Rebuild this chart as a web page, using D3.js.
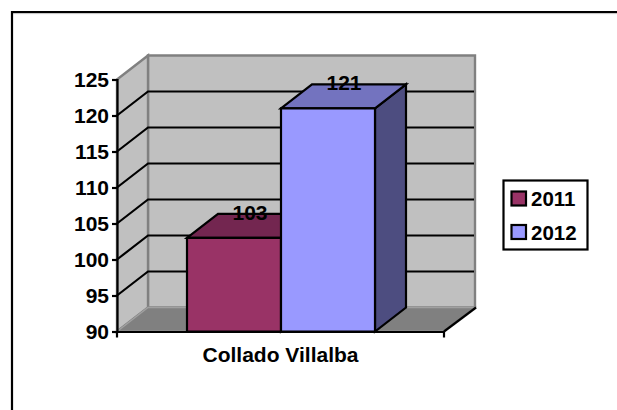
<!DOCTYPE html>
<html>
<head>
<meta charset="utf-8">
<script src="https://cdn.jsdelivr.net/npm/d3@7"></script>
<style>
html, body { margin: 0; padding: 0; background: #fff; }
svg { display: block; }
text { font-family: "Liberation Sans", Arial, sans-serif; font-weight: bold; fill: #000; }
</style>
</head>
<body>
<svg id="chart" width="617" height="410"></svg>
<script>
var categories = ["Collado Villalba"];
var seriesNames = ["2011", "2012"];
var seriesValues = [103, 121];
var seriesLabels = ["103", "121"];
var yTicks = [90, 95, 100, 105, 110, 115, 120, 125];

var seriesColors = ["#993366", "#9999ff"];
var topColors = ["#732650", "#7373bf"];
var sideColors = ["#4d1a33", "#4d4d80"];

var svg = d3.select("#chart");
var depthX = 31, depthY = -24;
var lineW = 2.2;

var y = d3.scaleLinear().domain([90, 125]).range([331.5, 79.5]);
var x0 = d3.scaleBand().domain(categories).range([117, 444]);
var x1 = d3.scaleBand().domain(seriesNames).range([187, 375]);

function poly(points, fill, stroke, width) {
	svg.append("polygon")
		.attr("points", points.map(function(p) { return p.join(","); }).join(" "))
		.attr("fill", fill)
		.attr("stroke", stroke || "none")
		.attr("stroke-width", width || 0);
}

// only the top and left edges of the frame are in the picture
svg.append("line").attr("x1", 12).attr("y1", 13.6).attr("x2", 617).attr("y2", 13.6)
	.attr("stroke", "#c0c0c0").attr("stroke-width", 1);
svg.append("path").attr("d", "M12,410V12H617")
	.attr("fill", "none").attr("stroke", "#000").attr("stroke-width", lineW);

var xl = x0.range()[0], xr = x0.range()[1], yb = y(90), yt = y(125);

// walls and floor
poly([[xl + depthX, yt + depthY], [xr + depthX, yt + depthY], [xr + depthX, yb + depthY], [xl + depthX, yb + depthY]], "#c0c0c0", "#808080", 2.4);
poly([[xl, yt], [xl + depthX, yt + depthY], [xl + depthX, yb + depthY], [xl, yb]], "#c0c0c0", "#808080", 2.4);
poly([[xl, yb], [xl + depthX, yb + depthY], [xr + depthX, yb + depthY], [xr, yb]], "#808080", "#a0a0a0", 1.4);

// gridlines
yTicks.slice(1, -1).forEach(function(t) {
	svg.append("path")
		.attr("d", d3.line()([[xl, y(t)], [xl + depthX, y(t) + depthY], [xr + depthX - 1, y(t) + depthY]]))
		.attr("fill", "none").attr("stroke", "#000").attr("stroke-width", lineW);
});

// floor edge on the right
svg.append("line").attr("x1", xr).attr("y1", yb).attr("x2", xr + depthX + 1).attr("y2", yb + depthY)
	.attr("stroke", "#000").attr("stroke-width", lineW);

// bars
seriesNames.forEach(function(s, i) {
	var a = x1(s), b = a + x1.bandwidth(), t = y(seriesValues[i]);
	poly([[b, t], [b + depthX, t + depthY], [b + depthX, yb + depthY], [b, yb]], sideColors[i], "#000", lineW);
	poly([[a, t], [a + depthX, t + depthY], [b + depthX, t + depthY], [b, t]], topColors[i], "#000", lineW);
	poly([[a, t], [b, t], [b, yb], [a, yb]], seriesColors[i], "#000", lineW);
});

// axes
var gy = svg.append("g").attr("transform", "translate(" + xl + ",0)")
	.call(d3.axisLeft(y).tickValues(yTicks).tickSize(5).tickPadding(3));
var gx = svg.append("g").attr("transform", "translate(0," + yb + ")")
	.call(d3.axisBottom(x0).tickSize(0).tickPadding(16));
[gy, gx].forEach(function(g) {
	g.attr("font-family", null).attr("font-size", null);
	g.selectAll("path, line").attr("stroke", "#000").attr("stroke-width", lineW);
	g.selectAll("text").style("font-size", "21px");
});
[xl, xr].forEach(function(px) {
	svg.append("line").attr("x1", px).attr("x2", px).attr("y1", yb).attr("y2", yb + 6)
		.attr("stroke", "#000").attr("stroke-width", lineW);
});

// data labels
seriesNames.forEach(function(s, i) {
	svg.append("text")
		.attr("x", x1(s) + x1.bandwidth() / 2 + 16)
		.attr("y", y(seriesValues[i]) + depthY + 6)
		.attr("text-anchor", "middle")
		.style("font-size", "21px")
		.text(seriesLabels[i]);
});

// legend
var legend = svg.append("g").attr("transform", "translate(503.5,180.5)");
legend.append("rect").attr("width", 84).attr("height", 69)
	.attr("fill", "#fff").attr("stroke", "#000").attr("stroke-width", lineW);
seriesNames.forEach(function(s, i) {
	var row = legend.append("g").attr("transform", "translate(8," + (11 + i * 33.5) + ")");
	row.append("rect").attr("width", 14.5).attr("height", 14)
		.attr("fill", seriesColors[i]).attr("stroke", "#000").attr("stroke-width", lineW);
	row.append("text").attr("x", 19.5).attr("y", 14.5).style("font-size", "20.5px").text(s);
});
</script>
</body>
</html>
